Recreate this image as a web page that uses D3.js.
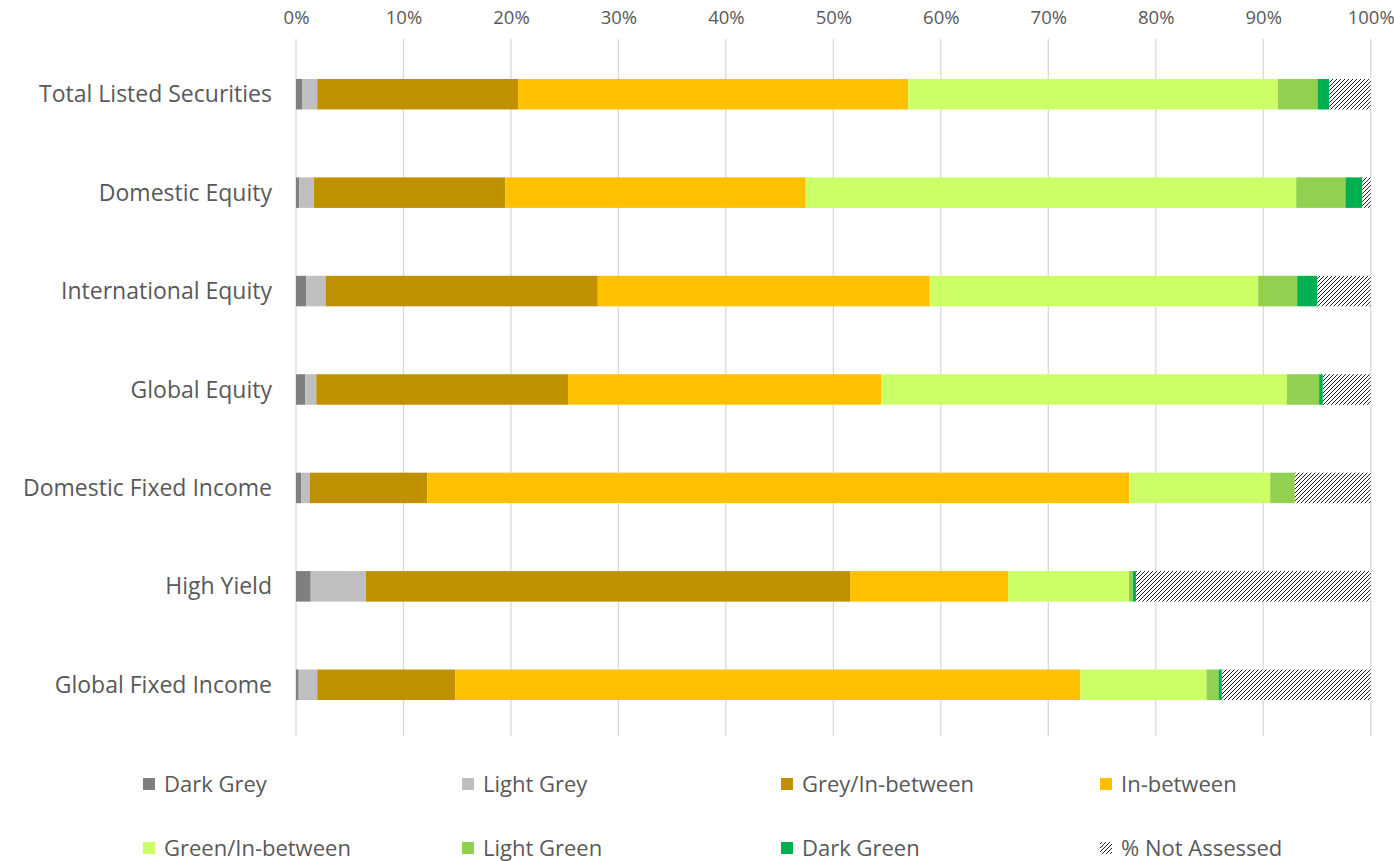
<!DOCTYPE html>
<html>
<head>
<meta charset="utf-8">
<script src="https://cdn.jsdelivr.net/npm/d3@7"></script>
<style>
  body { margin: 0; background: #fff; }
  text { font-family: "Open Sans", "Noto Sans", sans-serif; fill: #595959; }
</style>
</head>
<body>
<script>
// ---- data (percent of portfolio) ----
var categories = ["Total Listed Securities", "Domestic Equity", "International Equity", "Global Equity",
                  "Domestic Fixed Income", "High Yield", "Global Fixed Income"];

var darkGrey       = [0.56, 0.30, 0.96, 0.87, 0.47, 1.37, 0.25];
var lightGrey      = [1.42, 1.38, 1.80, 1.02, 0.80, 5.12, 1.73];
var greyInBetween  = [18.68, 17.80, 25.32, 23.42, 10.95, 45.07, 12.85];
var inBetween      = [36.30, 27.95, 30.89, 29.13, 65.33, 14.70, 58.16];
var greenInBetween = [34.40, 45.64, 30.56, 37.76, 13.10, 11.24, 11.73];
var lightGreen     = [3.70, 4.58, 3.63, 3.00, 2.29, 0.37, 1.12];
var darkGreen      = [1.10, 1.58, 1.89, 0.35, 0.00, 0.31, 0.31];
var notAssessed    = [3.84, 0.77, 4.95, 4.45, 7.06, 21.82, 13.85];

var seriesNames = ["Dark Grey", "Light Grey", "Grey/In-between", "In-between",
                   "Green/In-between", "Light Green", "Dark Green", "% Not Assessed"];
var seriesValues = [darkGrey, lightGrey, greyInBetween, inBetween, greenInBetween, lightGreen, darkGreen, notAssessed];
var seriesColors = ["#7f7f7f", "#bfbfbf", "#bf9000", "#ffc000", "#ccff66", "#92d050", "#00b050", "url(#hatch)"];

var xTicks = d3.range(0, 101, 10);

var width = 1394, height = 861;

var svg = d3.select("body").append("svg")
    .attr("width", width)
    .attr("height", height);

// hatch for not assessed
var pat = svg.append("defs").append("pattern")
    .attr("id", "hatch")
    .attr("patternUnits", "userSpaceOnUse")
    .attr("width", 4).attr("height", 4);
pat.append("rect").attr("width", 4).attr("height", 4).attr("fill", "#fff");
pat.append("path")
    .attr("d", "M-1,1 L1,-1 M0,4 L4,0 M3,5 L5,3")
    .attr("stroke", "#222")
    .attr("stroke-width", 1);

var rows = categories.map(function(c, i) {
  var r = { cat: c };
  seriesNames.forEach(function(s, j) { r[s] = seriesValues[j][i]; });
  return r;
});

var x = d3.scaleLinear().domain([0, 100]).range([296, 1370.7]);
var y = d3.scaleBand().domain(categories).range([45, 734]).paddingInner(0.69).paddingOuter(0.345);

// gridlines
svg.append("g").selectAll("line")
  .data(xTicks)
  .enter().append("line")
    .attr("x1", d => x(d)).attr("x2", d => x(d))
    .attr("y1", 39).attr("y2", 736)
    .attr("stroke", "#d9d9d9")
    .attr("stroke-width", 1.3);

// top axis labels
var xAxis = svg.append("g")
    .attr("transform", "translate(0,24)")
    .call(d3.axisTop(x).tickValues(xTicks).tickSize(0).tickFormat(d => d + "%"));
xAxis.select(".domain").remove();
xAxis.selectAll("text")
    .attr("y", 0).attr("dy", 0)
    .style("font-size", "18.5px")
    .style("font-family", "'Open Sans', sans-serif")
    .attr("fill", "#595959");

// category labels
svg.append("g").selectAll("text")
  .data(categories)
  .enter().append("text")
    .attr("x", 272)
    .attr("y", d => y(d) + y.bandwidth() / 2)
    .attr("dy", "0.35em")
    .attr("text-anchor", "end")
    .style("font-size", "23px")
    .text(d => d);

// stacked bars
var stack = d3.stack().keys(seriesNames);
var layers = stack(rows);

svg.append("g").selectAll("g")
  .data(layers)
  .enter().append("g")
    .attr("fill", (d, i) => seriesColors[i])
  .selectAll("rect")
  .data(d => d)
  .enter().append("rect")
    .attr("x", d => x(d[0]))
    .attr("y", d => y(d.data.cat))
    .attr("width", d => Math.max(0, x(d[1]) - x(d[0])))
    .attr("height", y.bandwidth());

// legend
var legX = [143, 462, 781, 1100];
var legY = [784, 848];
var leg = svg.append("g").selectAll("g")
  .data(seriesNames)
  .enter().append("g")
    .attr("transform", (d, i) => "translate(" + legX[i % 4] + "," + legY[Math.floor(i / 4)] + ")");

leg.append("rect")
    .attr("x", 0).attr("y", -6)
    .attr("width", 12).attr("height", 12)
    .attr("fill", (d, i) => seriesColors[i]);

leg.append("text")
    .attr("x", 21)
    .attr("dy", "0.35em")
    .style("font-size", "22px")
    .text(d => d);
</script>
</body>
</html>
